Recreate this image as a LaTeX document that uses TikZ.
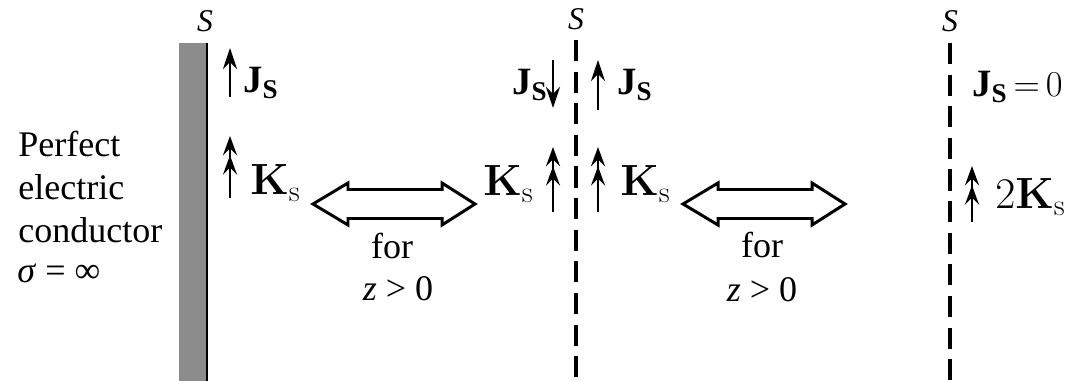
\documentclass[tikz,border=0pt]{standalone}
\usepackage{amsmath}
\usepackage[no-math]{fontspec}
\setmainfont{Liberation Serif}
\usetikzlibrary{positioning,arrows.meta}
\definecolor{cinza}{HTML}{8C8C8C}

\begin{document}
\begin{tikzpicture}[x=0.02cm,y=-0.02cm,
  rotulo/.style={inner sep=0pt,anchor=base west,font=\fontsize{22}{26}\selectfont},
  rotuloK/.style={rotulo,font=\fontsize{23}{27}\selectfont},
  superf/.style={inner sep=0pt,anchor=base,font=\fontsize{18}{20}\selectfont\itshape},
  texto/.style={inner sep=0pt,anchor=base,font=\fontsize{20.5}{24}\selectfont},
  corte/.style={line width=2pt,dash pattern=on 12pt off 6pt},
  seta/.style={-{Stealth[length=12pt,width=8pt,inset=4pt]},line width=1.5pt},
  setadupla/.style={-{Stealth[length=11pt,width=8pt,inset=4pt]Stealth[length=11pt,width=8pt,inset=4pt]},line width=1.5pt},
  setagrande/.style={draw,line width=1.7pt,fill=white,line join=miter}]
\useasboundingbox (0,0) rectangle (1071,381);
% condutor perfeito e superficies S
\fill[cinza] (179,43) rectangle (206,381);
\draw[line width=1.3pt] (207,43) -- (207,381);
\draw[corte] (576,40) -- (576,381);
\draw[corte] (950,43) -- (950,381);
\node[superf] (s1) at (205,32) {S};
\node[superf] (s2) at (576,30) {S};
\node[superf] (s3) at (950,32) {S};
% texto da esquerda
\foreach \linha/\yb in {Perfect/157,electric/200,conductor/243}
  \node[texto,anchor=base west] (pec\yb) at (18,\yb) {\linha};
\node[texto,anchor=base west] (sigma) at (17,283) {\textit{σ} = ∞};
% pontos das setas pequenas
\coordinate (j1a) at (230,97);  \coordinate (j1b) at (230,48);
\coordinate (j2a) at (553,60);  \coordinate (j2b) at (553,108);
\coordinate (j3a) at (598,110); \coordinate (j3b) at (598,60);
\coordinate (k1a) at (230,198); \coordinate (k1b) at (230,136);
\coordinate (k2a) at (553,212); \coordinate (k2b) at (553,147);
\coordinate (k3a) at (598,212); \coordinate (k3b) at (598,147);
\coordinate (k4a) at (972,222); \coordinate (k4b) at (972,166);
\foreach \a/\b in {j1a/j1b,j2a/j2b,j3a/j3b} \draw[seta] (\a)--(\b);
\foreach \a/\b in {k1a/k1b,k2a/k2b,k3a/k3b,k4a/k4b} \draw[setadupla] (\a)--(\b);
% rotulos
\node[rotulo] (js1) at (243,93) {$\textbf{J}_{\textbf{S}}$};
\node[rotulo] (js2) at (512,95) {$\textbf{J}_{\textbf{S}}$};
\node[rotulo] (js3) at (617,95) {$\textbf{J}_{\textbf{S}}$};
\node[rotulo] (js4) at (972,97) {$\textbf{J}_{\textbf{S}}\,{=}\,0$};
\node[rotuloK] (ks1) at (250,195) {$\mathbf{K}_\mathrm{s}$};
\node[rotuloK] (ks2) at (483,196) {$\mathbf{K}_\mathrm{s}$};
\node[rotuloK] (ks3) at (620,196) {$\mathbf{K}_\mathrm{s}$};
\node[rotuloK] (ks4) at (995,209) {$2\mathbf{K}_\mathrm{s}$};
% setas de equivalencia
\foreach \xa in {313,683}
  \draw[setagrande] (\xa,204) -- ++(35,-21) -- ++(0,6.5) -- ++(94,0) -- ++(0,-6.5)
    -- ++(33,21) -- ++(-33,21) -- ++(0,-6.5) -- ++(-94,0) -- ++(0,6.5) -- cycle;
\node[texto] (para1) at (392,259) {for};
\node[texto] (z1) at (398,301) {\textit{z} > 0};
\node[texto] (para2) at (762,258) {for};
\node[texto] (z2) at (762,302) {\textit{z} > 0};
\end{tikzpicture}
\end{document}
